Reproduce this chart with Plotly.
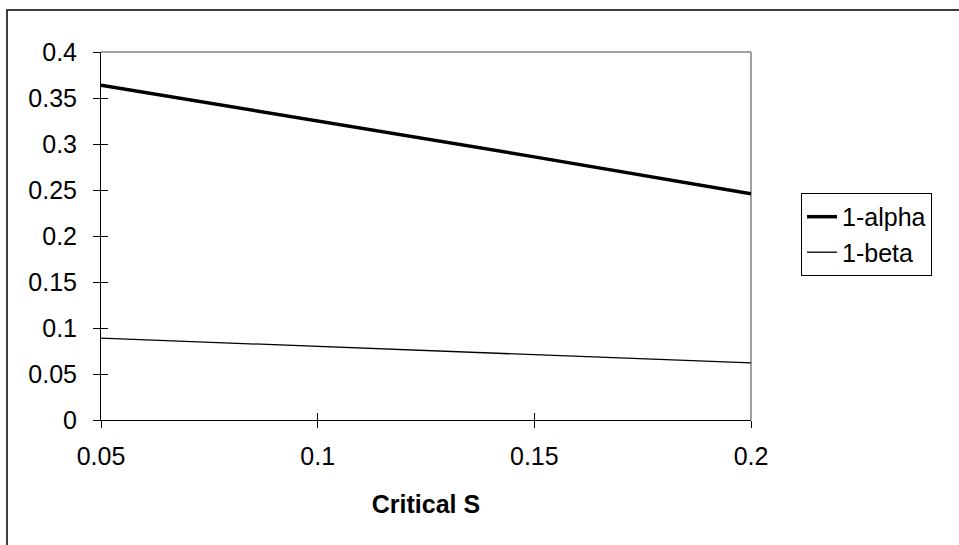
import plotly.graph_objects as go

# Critical S values and the two probability curves
critical_s = [0.05, 0.1, 0.15, 0.2]
one_minus_alpha = [0.364, 0.325, 0.286, 0.246]
one_minus_beta = [0.089, 0.080, 0.071, 0.062]

x_ticks = [0.05, 0.1, 0.15, 0.2]
x_tick_labels = ["0.05", "0.1", "0.15", "0.2"]
y_ticks = [0, 0.05, 0.1, 0.15, 0.2, 0.25, 0.3, 0.35, 0.4]
y_tick_labels = ["0", "0.05", "0.1", "0.15", "0.2", "0.25", "0.3", "0.35", "0.4"]

FONT = "Liberation Sans, Arial, sans-serif"
FS = 25

fig = go.Figure()
fig.add_trace(go.Scatter(x=critical_s, y=one_minus_alpha, mode="lines", name="1-alpha",
                         line=dict(color="black", width=3.5)))
fig.add_trace(go.Scatter(x=critical_s, y=one_minus_beta, mode="lines", name="1-beta",
                         line=dict(color="black", width=1.3)))
# invisible trace on the overlay axes so their inside ticks get drawn
fig.add_trace(go.Scatter(x=[0.05], y=[0], xaxis="x2", yaxis="y2", mode="markers",
                         marker=dict(opacity=0), showlegend=False, hoverinfo="skip"))

tick_style = dict(showgrid=False, zeroline=False, tickcolor="black", tickwidth=1)

fig.update_layout(
    width=959, height=545,
    margin=dict(l=101, r=208, t=52, b=125),
    paper_bgcolor="white", plot_bgcolor="white",
    font=dict(family=FONT, size=FS, color="black"),
    xaxis=dict(range=[0.05, 0.2], tickvals=x_ticks, ticktext=x_tick_labels,
               ticks="outside", ticklen=7, showline=True, linecolor="black", linewidth=1,
               ticklabelstandoff=7, tickfont=dict(size=FS),
               title=dict(text="<b>Critical S</b>", font=dict(size=FS), standoff=26),
               **tick_style),
    yaxis=dict(range=[0, 0.4], tickvals=y_ticks, ticktext=y_tick_labels,
               ticks="outside", ticklen=7, showline=True, linecolor="black", linewidth=1,
               ticklabelstandoff=11, tickfont=dict(size=FS),
               **tick_style),
    xaxis2=dict(range=[0.05, 0.2], tickvals=x_ticks, overlaying="x", ticks="inside",
                ticklen=7, showticklabels=False, showline=False, **tick_style),
    yaxis2=dict(range=[0, 0.4], tickvals=y_ticks, overlaying="y", ticks="inside",
                ticklen=7, showticklabels=False, showline=False, **tick_style),
    legend=dict(x=1.077, y=0.617, xanchor="left", yanchor="top",
                bordercolor="black", borderwidth=1, bgcolor="white",
                font=dict(size=FS), tracegroupgap=0, itemwidth=30),
    showlegend=True,
    shapes=[
        # outer chart border
        dict(type="rect", xref="paper", yref="paper", x0=-0.1446, x1=1.4, y0=-0.5, y1=1.114,
             line=dict(color="black", width=1.5), layer="below"),
        # grey top and right edges of the plot area
        dict(type="line", xref="paper", yref="paper", x0=0, x1=1, y0=1, y1=1,
             line=dict(color="#808080", width=1.5), layer="below"),
        dict(type="line", xref="paper", yref="paper", x0=1, x1=1, y0=0, y1=1,
             line=dict(color="#808080", width=1.5), layer="below"),
    ],
)

fig.write_html("out.html")
